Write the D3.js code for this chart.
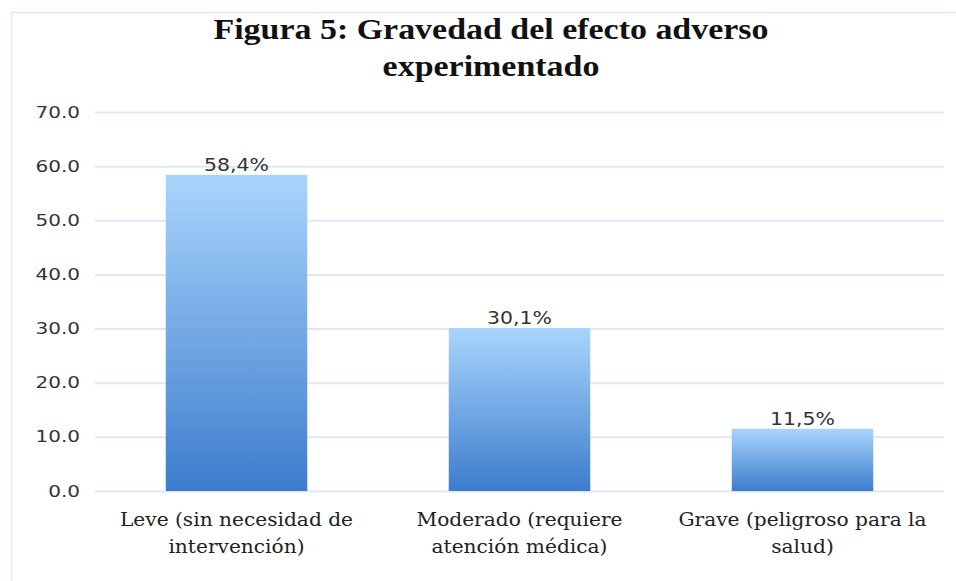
<!DOCTYPE html>
<html><head><meta charset="utf-8">
<script src="https://cdn.jsdelivr.net/npm/d3@7"></script>
<style>body{margin:0;background:#fff}</style>
</head><body>
<svg id="c" width="956" height="581"></svg>
<script>
const categories = [["Leve (sin necesidad de","intervención)"],["Moderado (requiere","atención médica)"],["Grave (peligroso para la","salud)"]];
const values = [58.4, 30.1, 11.5];
const valueLabels = ["58,4%","30,1%","11,5%"];
const yTicks = [0,10,20,30,40,50,60,70];
const titleLines = ["Figura 5: Gravedad del efecto adverso","experimentado"];

const svg = d3.select("#c");
const W=956,H=581;
const m={left:95,right:12,top:112,bottom:90};
const x=d3.scaleBand().domain(d3.range(values.length)).range([m.left,W-m.right]).paddingInner(0.5).paddingOuter(0.25);
const y=d3.scaleLinear().domain([0,70]).range([H-m.bottom,m.top]);

const defs=svg.append("defs");
const g=defs.append("linearGradient").attr("id","bg").attr("x1",0).attr("y1",0).attr("x2",0).attr("y2",1);
g.append("stop").attr("offset","0%").attr("stop-color","#a9d5fc");
g.append("stop").attr("offset","100%").attr("stop-color","#3d7ccd");

// frame
svg.append("line").attr("x1",11.5).attr("x2",11.5).attr("y1",12).attr("y2",H).attr("stroke","#dce8f7").attr("stroke-width",1.5);
svg.append("line").attr("x1",11).attr("x2",W).attr("y1",12.5).attr("y2",12.5).attr("stroke","#dce8f7").attr("stroke-width",1.5);

// stretch helper: widen text horizontally by factor
function stretch(sel,f){sel.each(function(){const w=this.getComputedTextLength();d3.select(this).attr("textLength",w*f).attr("lengthAdjust","spacingAndGlyphs");});}

// title
const tt=svg.append("g").selectAll("text").data(titleLines).join("text")
 .attr("x",491).attr("y",(d,i)=>39+i*37).attr("text-anchor","middle")
 .attr("font-family","'Liberation Serif', serif").attr("font-weight","bold").attr("font-size",29).attr("fill","#111")
 .text(d=>d);
stretch(tt,1.17);

// grid + y axis
const ya=svg.append("g").attr("transform",`translate(${m.left},0)`)
 .call(d3.axisLeft(y).tickValues(yTicks).tickFormat(d3.format(".1f")).tickSize(-(W-m.right-m.left)).tickPadding(15));
ya.select(".domain").remove();
ya.selectAll(".tick line").attr("stroke","#dce8f7").attr("stroke-width",2);
const yt=ya.selectAll(".tick text").attr("font-family","'DejaVu Sans', sans-serif").attr("font-size",16).attr("fill","#333");
stretch(yt,1.25);

// bars
svg.append("g").selectAll("rect").data(values).join("rect")
 .attr("x",(d,i)=>x(i)).attr("width",x.bandwidth()).attr("y",d=>y(d)).attr("height",d=>y(0)-y(d)).attr("fill","url(#bg)");

// value labels
const vl=svg.append("g").selectAll("text").data(values).join("text")
 .attr("x",(d,i)=>x(i)+x.bandwidth()/2).attr("y",d=>y(d)-4).attr("text-anchor","middle")
 .attr("font-family","'DejaVu Sans', sans-serif").attr("font-size",17).attr("fill","#333")
 .text((d,i)=>valueLabels[i]);
stretch(vl,1.2);

// category labels
const cl=svg.append("g").selectAll("text").data(categories).join("text")
 .attr("text-anchor","middle").attr("font-family","'DejaVu Serif', serif").attr("font-size",18).attr("fill","#222");
const ts=cl.selectAll("tspan").data((d,i)=>d.map(t=>({t,i}))).join("tspan")
 .attr("x",d=>x(d.i)+x.bandwidth()/2).attr("y",(d,j)=>526+j*27).text(d=>d.t);
cl.each(function(){
  d3.select(this).selectAll("tspan").each(function(){
    const w=this.getComputedTextLength();
    d3.select(this).attr("textLength",w*1.12).attr("lengthAdjust","spacingAndGlyphs");
  });
});
</script>
</body></html>
